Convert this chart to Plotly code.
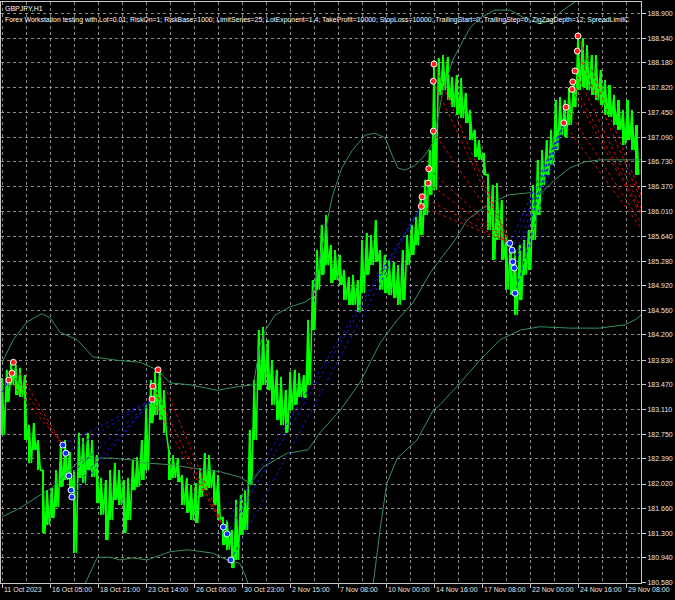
import plotly.graph_objects as go

# ---------------- data ----------------
# price action sampled every 6 H1 bars (bar index from first visible bar)
bar_step = 6
bar_high = [183.57, 183.69, 183.80, 183.76, 183.72, 183.61, 182.88, 182.91, 182.66, 182.22,
            181.93, 181.96, 182.22, 182.59, 182.66, 182.49, 182.22, 182.77, 182.69, 182.77,
            182.66, 182.44, 182.11, 182.08, 182.22, 182.33, 182.22, 182.08, 182.11, 182.37,
            182.41, 182.66, 183.18, 183.54, 183.66, 183.69, 183.39, 182.52, 182.44, 182.40,
            182.15, 182.11, 182.01, 182.03, 182.25, 182.47, 182.44, 182.22, 182.15, 181.54,
            181.49, 181.35, 181.79, 181.86, 181.93, 182.81, 183.54, 184.27, 184.32, 184.13,
            183.83, 183.69, 183.58, 183.39, 183.66, 183.69, 183.64, 183.61, 184.42, 185.00,
            185.44, 185.81, 185.95, 185.51, 185.44, 185.37, 185.15, 185.05, 185.08, 185.00,
            185.59, 185.69, 185.66, 185.88, 185.44, 185.37, 185.30, 185.27, 185.22, 185.44,
            185.66, 185.81, 185.92, 186.25, 186.47, 186.90, 188.22, 188.25, 188.29, 188.26,
            187.97, 188.00, 187.96, 187.74, 187.49, 187.20, 187.05, 186.86, 186.54, 186.39,
            186.42, 186.17, 185.66, 185.59, 185.44, 185.51, 185.59, 185.73, 186.39, 186.76,
            186.90, 187.05, 187.20, 187.63, 187.68, 187.63, 187.81, 187.93, 188.61, 188.54,
            188.44, 188.29, 188.29, 188.07, 187.93, 187.85, 187.71, 187.63, 187.49, 187.63,
            187.49, 187.27]
bar_low = [182.74, 183.22, 183.47, 183.32, 183.29, 182.66, 182.33, 182.52, 182.22, 181.30,
           181.42, 181.52, 181.68, 181.98, 182.08, 181.93, 181.01, 182.11, 182.03, 182.22,
           182.12, 181.74, 181.57, 181.20, 181.49, 181.79, 181.71, 181.30, 181.49, 181.93,
           181.98, 182.08, 182.22, 182.91, 183.03, 182.96, 182.77, 182.08, 182.11, 182.05,
           181.71, 181.60, 181.49, 181.45, 181.83, 181.93, 181.96, 181.71, 181.49, 181.13,
           181.06, 180.79, 180.91, 181.27, 181.35, 182.01, 182.66, 183.39, 183.47, 183.39,
           183.18, 182.96, 182.88, 182.77, 183.10, 183.18, 183.29, 183.28, 183.47, 184.27,
           184.86, 185.08, 185.22, 184.96, 185.00, 184.93, 184.71, 184.64, 184.64, 184.53,
           184.81, 185.08, 185.22, 185.27, 184.86, 184.81, 184.78, 184.74, 184.64, 184.71,
           185.22, 185.37, 185.51, 185.66, 185.95, 186.25, 186.32, 187.71, 187.78, 187.63,
           187.53, 187.42, 187.37, 187.30, 187.05, 186.80, 186.76, 186.54, 185.73, 185.30,
           185.59, 185.30, 184.86, 184.78, 184.49, 184.71, 185.08, 185.15, 185.59, 185.95,
           186.39, 186.54, 186.68, 186.90, 187.12, 187.09, 187.27, 187.53, 187.78, 187.82,
           187.78, 187.71, 187.63, 187.56, 187.42, 187.39, 187.27, 187.20, 186.98, 187.05,
           186.90, 186.54]

# bollinger-style envelope (bar index, price)
upper_x = [0, 15, 33, 53, 64, 77, 100, 121, 153, 184, 207, 224, 251, 287, 317, 335, 344, 351,
           364, 384, 404, 413, 421, 431, 441, 453, 467, 484, 497, 511, 520, 528, 537, 551, 564,
           575, 588, 601, 615, 624, 637, 657, 677, 697, 717, 733, 748, 768, 790, 852]
upper_p = [183.80, 184.13, 184.39, 184.51, 184.45, 184.24, 184.13, 183.88, 183.83, 183.80,
           183.69, 183.50, 183.47, 183.39, 183.45, 183.47, 184.05, 184.27, 184.49, 184.61,
           184.68, 184.75, 185.15, 185.73, 186.25, 186.64, 186.90, 187.12, 187.15, 187.08,
           186.83, 186.64, 186.61, 186.68, 186.83, 187.01, 187.78, 188.22, 188.51, 188.69,
           188.83, 188.95, 188.95, 188.83, 188.75, 188.80, 188.95, 189.10, 189.40, 189.60]
middle_x = [0, 24, 68, 100, 113, 144, 175, 188, 228, 255, 291, 317, 331, 348, 380, 408, 424,
            451, 477, 504, 527, 548, 571, 584, 604, 620, 651, 677, 704, 717, 737, 757, 777,
            797, 824, 852]
middle_p = [181.54, 181.67, 181.98, 182.33, 182.40, 182.40, 182.37, 182.33, 182.30, 182.25,
            182.20, 182.12, 182.03, 182.27, 182.47, 182.52, 182.77, 183.10, 183.50, 184.08,
            184.42, 184.67, 185.11, 185.30, 185.59, 185.88, 186.13, 186.25, 186.28, 186.25,
            186.47, 186.64, 186.73, 186.76, 186.76, 186.76]
lower_x = [97, 111, 127, 144, 157, 175, 193, 224, 247, 281, 300, 317, 324, 333, 430, 491, 495,
           504, 513, 527, 553, 575, 584, 611, 637, 664, 691, 717, 757, 797, 831, 844, 852]
lower_p = [180.32, 180.57, 180.95, 180.95, 180.91, 180.94, 180.91, 181.03, 181.06, 181.01,
           180.91, 180.86, 180.69, 180.40, 180.20, 180.32, 180.57, 181.35, 182.03, 182.40,
           182.66, 183.10, 183.18, 183.50, 183.83, 184.13, 184.27, 184.32, 184.30, 184.30,
           184.35, 184.42, 184.49]

# trades: sell series (red) and buy series (blue)
sell_open_x = [9, 13, 15, 200, 201, 208, 559, 560, 568, 569, 575, 575, 576,
               749, 752, 760, 761, 764, 767, 768]
sell_open_p = [183.54, 183.64, 183.80, 183.26, 183.45, 183.69, 186.08, 186.22, 186.42, 186.63,
               187.18, 187.91, 188.16, 187.30, 187.53, 187.79, 187.90, 188.06, 188.35, 188.57]
sell_close_x = [81, 81, 81, 295, 295, 295, 677, 677, 677, 677, 677, 677, 677,
                890, 890, 890, 890, 890, 890, 890]
sell_close_p = [182.59, 182.59, 182.59, 181.39, 181.39, 181.39, 185.54, 185.54, 185.54, 185.54,
                185.54, 185.54, 185.54, 185.20, 185.20, 185.20, 185.20, 185.20, 185.20, 185.20]
buy_open_x = [-30, -30, 81, 85, 89, 92, 93, 295, 300, 305, 677, 680, 681, 683, 684]
buy_open_p = [182.90, 182.75, 182.59, 182.47, 182.14, 181.93, 181.83, 181.39, 181.29, 180.91,
              185.54, 185.44, 185.27, 185.18, 184.81]
buy_close_x = [9, 9, 201, 201, 201, 201, 201, 559, 559, 559, 749, 749, 749, 749, 749]
buy_close_p = [183.54, 183.54, 183.26, 183.26, 183.26, 183.26, 183.26, 186.08, 186.08, 186.08,
               187.30, 187.30, 187.30, 187.30, 187.30]

price_ticks = [188.900, 188.540, 188.180, 187.820, 187.450, 187.090, 186.730, 186.370, 186.010,
               185.640, 185.280, 184.920, 184.560, 184.200, 183.830, 183.470, 183.110, 182.750,
               182.390, 182.020, 181.660, 181.300, 180.940, 180.580]
time_tick_bars = [0, 64, 128, 192, 256, 320, 384, 448, 512, 576, 640, 704, 768, 832]
time_tick_labels = ["11 Oct 2023", "16 Oct 05:00", "18 Oct 21:00", "23 Oct 14:00", "26 Oct 06:00",
                    "30 Oct 23:00", "2 Nov 15:00", "7 Nov 08:00", "10 Nov 00:00", "14 Nov 16:00",
                    "17 Nov 08:00", "22 Nov 00:00", "24 Nov 16:00", "29 Nov 08:00"]

title_line1 = "GBPJPY,H1"
title_line2 = ("Forex Workstation testing with Lot=0.01; RiskOn=1; RiskBase=1000; LimitSeries=25; "
               "LotExponent=1.4; TakeProfit=10000; StopLoss=10000; TrailingStart=0; "
               "TrailingStep=0; ZigZagDepth=12; SpreadLimitC")

# ---------------- figure ----------------
FONT = "Liberation Sans, Arial, sans-serif"
GREEN = "#00ff00"
fig = go.Figure()

bar_x = [i * bar_step for i in range(len(bar_high))]
# thin vertical high-low strokes
fig.add_trace(go.Bar(
    x=bar_x, y=[h - l for h, l in zip(bar_high, bar_low)], base=bar_low,
    width=bar_step * 0.45, marker=dict(color=GREEN, line=dict(width=0)),
    hoverinfo="skip"))
# zig-zag between successive highs and lows to mimic dense H1 bars
zz_x, zz_y = [], []
for b, h, l in zip(bar_x, bar_high, bar_low):
    zz_x += [b, b + bar_step / 2]
    zz_y += [h, l]
fig.add_trace(go.Scatter(x=zz_x, y=zz_y, mode="lines",
                         line=dict(color=GREEN, width=1.6), hoverinfo="skip"))

band_color = "#3b8f5e"
for xs, ps in ((upper_x, upper_p), (middle_x, middle_p), (lower_x, lower_p)):
    fig.add_trace(go.Scatter(x=xs, y=ps, mode="lines",
                             line=dict(color=band_color, width=1), hoverinfo="skip"))


def seg(x0, y0, x1, y1):
    xs, ys = [], []
    for a, b, c, d in zip(x0, y0, x1, y1):
        xs += [a, c, None]
        ys += [b, d, None]
    return xs, ys


sx, sy = seg(sell_open_x, sell_open_p, sell_close_x, sell_close_p)
fig.add_trace(go.Scatter(x=sx, y=sy, mode="lines",
                         line=dict(color="#d01010", width=1, dash="dot"), hoverinfo="skip"))
bx, by = seg(buy_open_x, buy_open_p, buy_close_x, buy_close_p)
fig.add_trace(go.Scatter(x=bx, y=by, mode="lines",
                         line=dict(color="#1a1ad0", width=1, dash="dot"), hoverinfo="skip"))

# open markers
fig.add_trace(go.Scatter(x=sell_open_x, y=sell_open_p, mode="markers",
                         marker=dict(symbol="circle", size=6, color="#ff2020",
                                     line=dict(color="#ffffff", width=1)), hoverinfo="skip"))
fig.add_trace(go.Scatter(x=buy_open_x, y=buy_open_p, mode="markers",
                         marker=dict(symbol="circle", size=6, color="#1030ff",
                                     line=dict(color="#ffffff", width=1)), hoverinfo="skip"))

fig.update_layout(
    width=675, height=600,
    margin=dict(l=1, r=34, t=2, b=17),
    paper_bgcolor="#000000", plot_bgcolor="#000000",
    showlegend=False, bargap=0,
    font=dict(family=FONT, color="#e6e6e6", size=7),
)
fig.update_xaxes(
    range=[-1.5, 852], tickvals=time_tick_bars, showticklabels=False,
    ticks="outside", ticklen=4, tickcolor="#c8c8c8",
    showgrid=True, gridcolor="#8a8a8a", gridwidth=1, griddash="3px,3px",
    minor=dict(dtick=32, tick0=0, showgrid=True, gridcolor="#8a8a8a", griddash="3px,3px"),
    showline=True, linecolor="#c8c8c8", linewidth=1, mirror=True, zeroline=False,
)
fig.update_yaxes(
    range=[180.573, 189.068], side="right", tickvals=price_ticks,
    ticktext=[f"{v:.3f}" for v in price_ticks],
    ticks="outside", ticklen=4, tickcolor="#c8c8c8",
    tickfont=dict(family=FONT, size=7, color="#e6e6e6"),
    showgrid=True, gridcolor="#8a8a8a", gridwidth=1, griddash="3px,3px",
    showline=True, linecolor="#c8c8c8", linewidth=1, mirror=True, zeroline=False,
)

for b, lab in zip(time_tick_bars, time_tick_labels):
    fig.add_annotation(x=b, y=0, xref="x", yref="paper", text=lab, showarrow=False,
                       xanchor="left", yanchor="top", xshift=0, yshift=-1,
                       font=dict(family=FONT, size=7, color="#e6e6e6"))

fig.add_annotation(x=0.003, y=0.9985, xref="paper", yref="paper", text=title_line1,
                   showarrow=False, xanchor="left", yanchor="top",
                   font=dict(family=FONT, size=7, color="#ffffff"))
fig.add_annotation(x=0.003, y=0.979, xref="paper", yref="paper", text=title_line2,
                   showarrow=False, xanchor="left", yanchor="top",
                   font=dict(family=FONT, size=6.9, color="#ffffff"))

fig.write_html("out.html", config={"displayModeBar": False},
               post_script="document.body.style.margin='0';document.body.style.padding='0';")
